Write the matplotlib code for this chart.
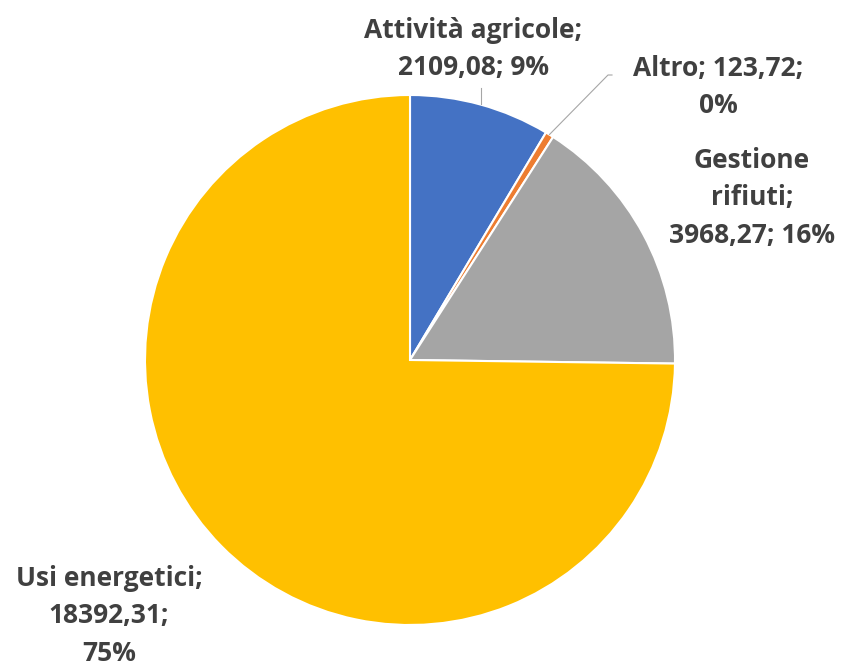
import matplotlib
matplotlib.use('Agg')
import matplotlib.pyplot as plt

# data
names = ['Attività agricole', 'Altro', 'Gestione rifiuti', 'Usi energetici']
values = [2109.08, 123.72, 3968.27, 18392.31]
pct_labels = ['9%', '0%', '16%', '75%']
colors = ['#4472C4', '#ED7D31', '#A5A5A5', '#FFC000']

plt.rcParams['font.family'] = ['Open Sans', 'DejaVu Sans']

fig = plt.figure(figsize=(8.48, 6.67), dpi=100)
W, H = 848, 667
cx, cy, r = 410, 360, 265
ax = fig.add_axes([(cx - r) / W, (H - cy - r) / H, 2 * r / W, 2 * r / H])

wedges, _ = ax.pie(values, colors=colors, startangle=90, counterclock=False,
                   radius=1, wedgeprops=dict(edgecolor='white', linewidth=1.5))
ax.set_xlim(-1, 1)
ax.set_ylim(-1, 1)
ax.set_aspect('equal')
ax.axis('off')

def fmt(v):
    return ('%.2f' % v).replace('.', ',')

# label text, wrapped as in the original
texts = [
    '%s;\n%s; %s' % (names[0], fmt(values[0]), pct_labels[0]),
    '%s; %s;\n%s' % (names[1], fmt(values[1]), pct_labels[1]),
    'Gestione\nrifiuti;\n%s; %s' % (fmt(values[2]), pct_labels[2]),
    '%s;\n%s;\n%s' % (names[3], fmt(values[3]), pct_labels[3]),
]
# label centres in pixels
pos = [(473, 49), (718, 87), (752, 198), (109, 616)]

for t, (px, py) in zip(texts, pos):
    ax.text((px - cx) / r, (cy - py) / r, t, ha='center', va='center',
            fontsize=19, fontweight='bold', color='#404040',
            linespacing=1.5, clip_on=False)

# leader lines
def to_data(px, py):
    return (px - cx) / r, (cy - py) / r

x0, y0 = to_data(481, 88)
x1, y1 = to_data(481, 104)
ax.plot([x0, x1], [y0, y1], color='#A6A6A6', lw=0.8, clip_on=False)
xa, ya = to_data(549.5, 134.5)
xb, yb = to_data(608, 75)
xc, yc = to_data(612, 75)
ax.plot([xa, xb, xc], [ya, yb, yc], color='#A6A6A6', lw=0.8, clip_on=False)

fig.savefig('out.png', dpi=100, facecolor='white')
